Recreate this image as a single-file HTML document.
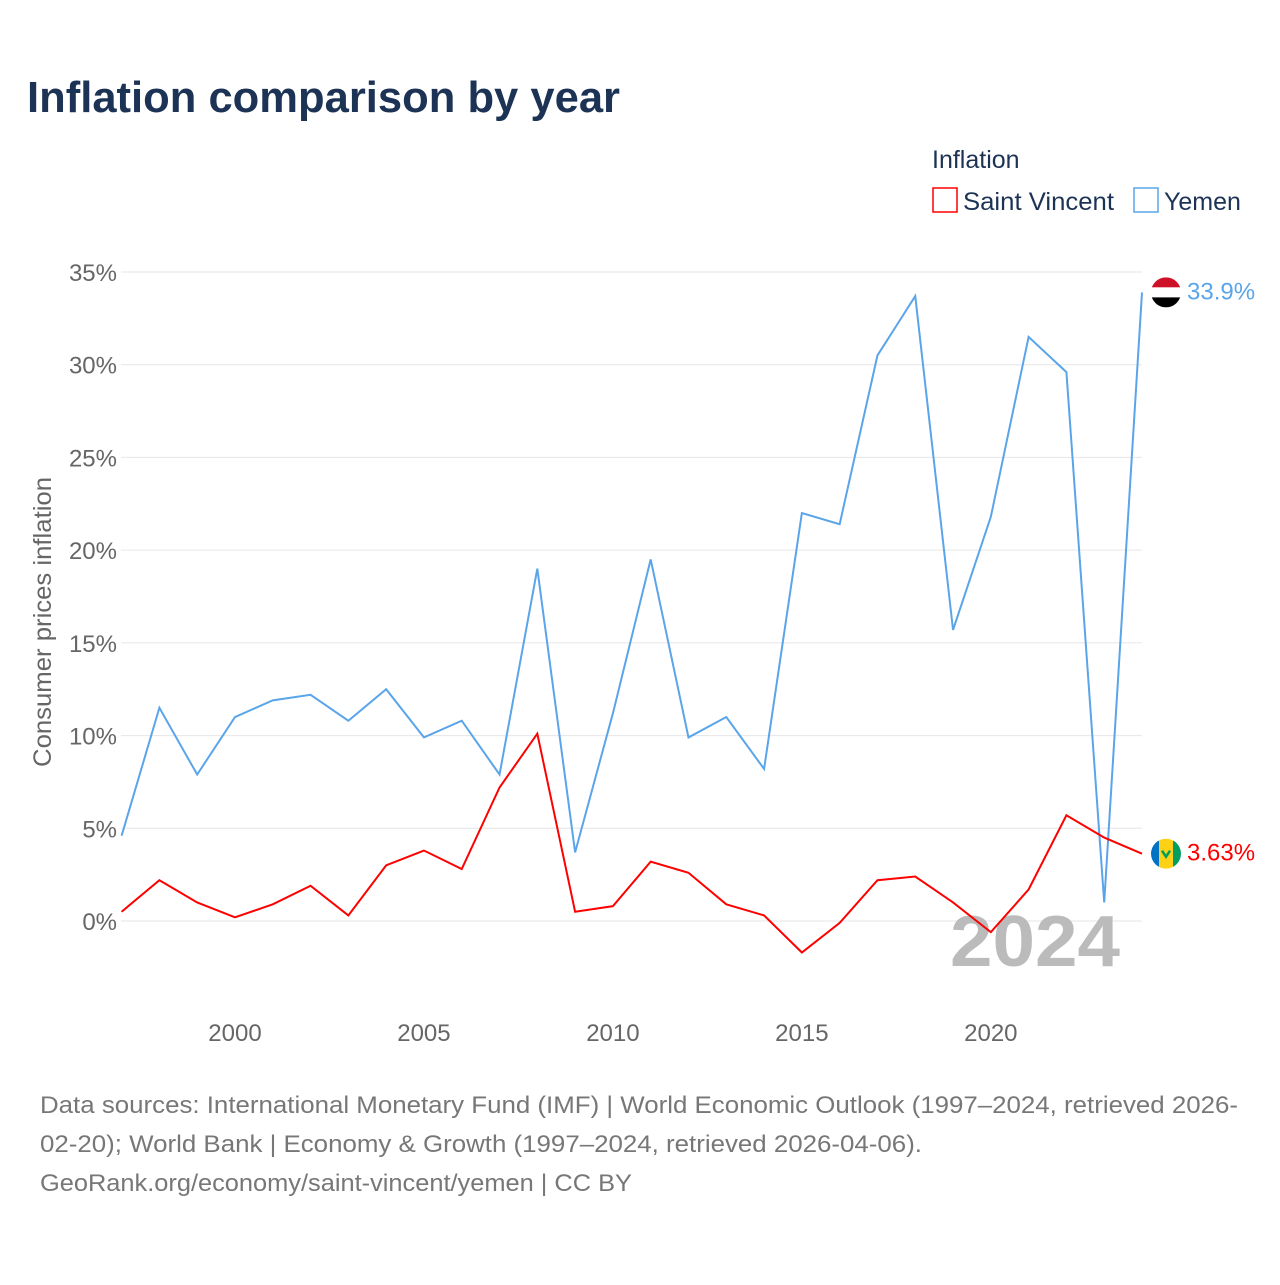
<!DOCTYPE html>
<html><head><meta charset="utf-8"><style>
body{margin:0;background:#fff;font-family:"Liberation Sans",sans-serif;}
svg text{font-family:"Liberation Sans",sans-serif;}
</style></head><body>
<svg id="chart" width="1280" height="1280" xmlns="http://www.w3.org/2000/svg">
<rect width="1280" height="1280" fill="#fff"/>
<text x="27" y="112" font-size="44" font-weight="bold" fill="#1c3355" textLength="593" lengthAdjust="spacingAndGlyphs">Inflation comparison by year</text>
<text x="932" y="168" font-size="25" fill="#1c3355">Inflation</text>
<g><rect x="933" y="188" width="24" height="24" fill="none" stroke="#ff0000" stroke-width="1.5"/><text x="963" y="210" font-size="25" fill="#1c3355" textLength="151" lengthAdjust="spacingAndGlyphs">Saint Vincent</text></g>
<g><rect x="1134" y="188" width="24" height="24" fill="none" stroke="#5aa5ea" stroke-width="1.5"/><text x="1164" y="210" font-size="25" fill="#1c3355">Yemen</text></g>
<text transform="translate(51,622) rotate(-90)" text-anchor="middle" font-size="25" fill="#666" textLength="290" lengthAdjust="spacingAndGlyphs">Consumer prices inflation</text>
<g id="grid"></g><g id="xt"></g>
<text x="950" y="966" font-size="72" font-weight="bold" fill="#bbb" textLength="170" lengthAdjust="spacingAndGlyphs">2024</text>
<g id="series"></g>
<g font-size="24" fill="#777">
<text x="40" y="1113" textLength="1198" lengthAdjust="spacingAndGlyphs">Data sources: International Monetary Fund (IMF) | World Economic Outlook (1997–2024, retrieved 2026-</text>
<text x="40" y="1152" textLength="882" lengthAdjust="spacingAndGlyphs">02-20); World Bank | Economy &amp; Growth (1997–2024, retrieved 2026-04-06).</text>
<text x="40" y="1191" textLength="592" lengthAdjust="spacingAndGlyphs">GeoRank.org/economy/saint-vincent/yemen | CC BY</text>
</g>
</svg>
<script>
const years=[1997,1998,1999,2000,2001,2002,2003,2004,2005,2006,2007,2008,2009,2010,2011,2012,2013,2014,2015,2016,2017,2018,2019,2020,2021,2022,2023,2024];
const yemen=[4.6,11.5,7.9,11.0,11.9,12.2,10.8,12.5,9.9,10.8,7.9,19.0,3.7,11.2,19.5,9.9,11.0,8.2,22.0,21.4,30.5,33.7,15.7,21.8,31.5,29.6,1.0,33.9];
const stv=[0.5,2.2,1.0,0.2,0.9,1.9,0.3,3.0,3.8,2.8,7.2,10.1,0.5,0.8,3.2,2.6,0.9,0.3,-1.7,-0.1,2.2,2.4,1.0,-0.6,1.7,5.7,4.5,3.63];
const yTicks=[0,5,10,15,20,25,30,35];
const xTicks=[2000,2005,2010,2015,2020];
const NS="http://www.w3.org/2000/svg";
const x=v=>121.6+(v-1997)*(1142-121.6)/27;
const y=v=>921-v*18.543;
function mk(t,a,p){const e=document.createElementNS(NS,t);for(const k in a)e.setAttribute(k,a[k]);p.appendChild(e);return e;}
const grid=document.getElementById('grid');
yTicks.forEach(t=>{
 const l=mk('line',{x1:121,x2:1142,y1:y(t),y2:y(t),stroke:'#e6e6e6','stroke-width':1},grid);
 
 
 const tx=mk('text',{x:117,y:y(t)+9,'text-anchor':'end','font-size':24,fill:'#666'},grid);
 tx.textContent=t+'%';
 
 
});
const xt=document.getElementById('xt');
xTicks.forEach(t=>{
 const tx=mk('text',{x:x(t),y:1041,'text-anchor':'middle','font-size':24,fill:'#666'},xt);
 tx.textContent=t;
 
 
});
const s=document.getElementById('series');
function line(vals,col,name,label){
 const p=mk('polyline',{points:vals.map((v,i)=>x(years[i])+','+y(v)).join(' '),fill:'none',stroke:col,'stroke-width':2},s);
 
 
 const last=vals[vals.length-1];
 const tx=mk('text',{x:1187,y:y(last)+7,'font-size':24,fill:col},s);
 tx.textContent=label;
 
 
 return y(last);
}
const yy=line(yemen,'#5aa5ea','yemen',yemen[27]+'%');
const sy=line(stv,'#ff0000','saint-vincent',stv[27]+'%');
const fy=mk('g',{},s);


const cy=mk('clipPath',{id:'cy'},fy);mk('circle',{cx:1166,cy:yy,r:15},cy);
const gy=mk('g',{'clip-path':'url(#cy)'},fy);
mk('rect',{x:1151,y:yy-15,width:30,height:10,fill:'#ce1126'},gy);
mk('rect',{x:1151,y:yy-5,width:30,height:10,fill:'#fff'},gy);
mk('rect',{x:1151,y:yy+5,width:30,height:10,fill:'#000'},gy);
const fs=mk('g',{},s);


const cp=mk('clipPath',{id:'cs'},fs);mk('circle',{cx:1166,cy:sy,r:15},cp);
const gs=mk('g',{'clip-path':'url(#cs)'},fs);
mk('rect',{x:1151,y:sy-15,width:8,height:30,fill:'#0072c6'},gs);
mk('rect',{x:1159,y:sy-15,width:14,height:30,fill:'#fcd116'},gs);
mk('rect',{x:1173,y:sy-15,width:8,height:30,fill:'#009e60'},gs);
mk('path',{d:`M1162 ${sy-3} l4 6 l4 -6`,stroke:'#009e60','stroke-width':2.5,fill:'none'},gs);
</script>
</body></html>
